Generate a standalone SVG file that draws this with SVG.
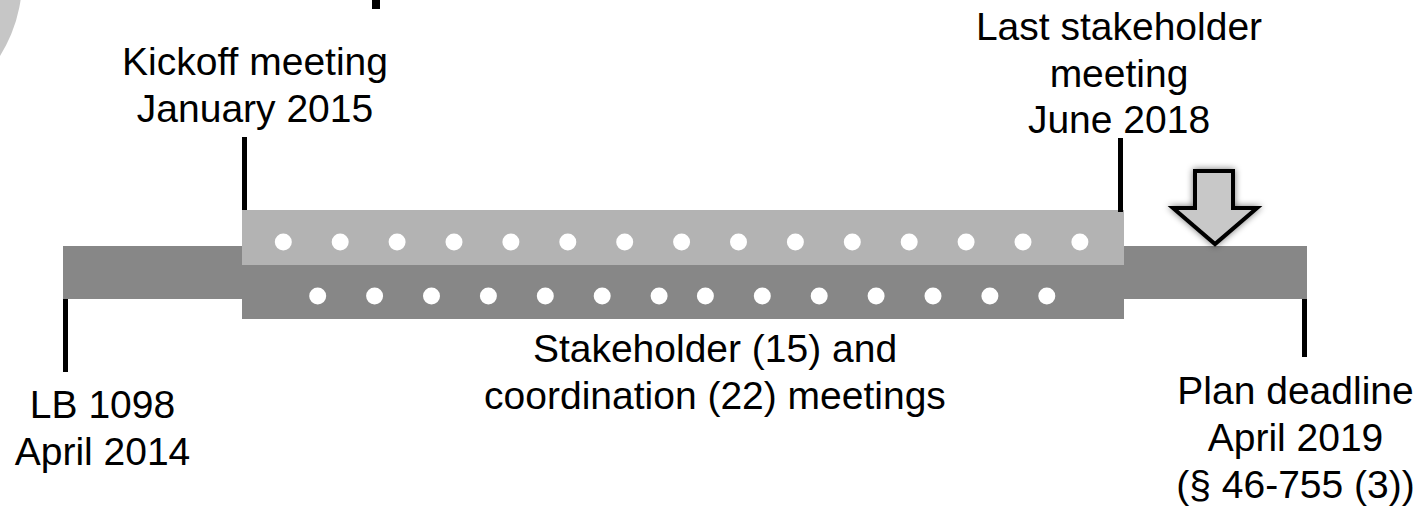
<svg xmlns="http://www.w3.org/2000/svg" width="1422" height="508" viewBox="0 0 1422 508">
<style>
.t{font-family:"Liberation Sans",Arial,sans-serif;font-size:39px;fill:#000;text-anchor:middle}
.dark{fill:#878787}
.light{fill:#b3b3b3}
.dot{fill:#fff}
.tick{fill:#000}
</style>
<defs>
<filter id="glow" x="-30%" y="-30%" width="160%" height="160%">
<feGaussianBlur in="SourceAlpha" stdDeviation="3.5"/>
<feComponentTransfer><feFuncA type="linear" slope="0.55"/></feComponentTransfer>
<feMerge><feMergeNode/><feMergeNode in="SourceGraphic"/></feMerge>
</filter>
</defs>
<rect width="1422" height="508" fill="#fff"/>
<circle cx="-120" cy="-20" r="142" fill="#c6c6c6"/>
<rect x="372" y="0" width="8" height="9" fill="#000"/>
<g id="bars">
<rect class="dark" x="63" y="246" width="182" height="53"/>
<rect class="dark" x="1124" y="246" width="183" height="53"/>
<rect class="light" x="242" y="210" width="882" height="55"/>
<rect class="dark" x="242" y="265" width="882" height="54"/>
</g>
<g id="stakeholder-dots">
<circle class="dot" cx="283.3" cy="242" r="8.5"/>
<circle class="dot" cx="340.2" cy="242" r="8.5"/>
<circle class="dot" cx="397.1" cy="242" r="8.5"/>
<circle class="dot" cx="454" cy="242" r="8.5"/>
<circle class="dot" cx="510.9" cy="242" r="8.5"/>
<circle class="dot" cx="567.8" cy="242" r="8.5"/>
<circle class="dot" cx="624.7" cy="242" r="8.5"/>
<circle class="dot" cx="681.6" cy="242" r="8.5"/>
<circle class="dot" cx="738.5" cy="242" r="8.5"/>
<circle class="dot" cx="795.4" cy="242" r="8.5"/>
<circle class="dot" cx="852.3" cy="242" r="8.5"/>
<circle class="dot" cx="909.2" cy="242" r="8.5"/>
<circle class="dot" cx="966.1" cy="242" r="8.5"/>
<circle class="dot" cx="1023" cy="242" r="8.5"/>
<circle class="dot" cx="1079.9" cy="242" r="8.5"/>
</g>
<g id="coordination-dots">
<circle class="dot" cx="317.7" cy="296" r="8.5"/>
<circle class="dot" cx="374.6" cy="296" r="8.5"/>
<circle class="dot" cx="431.5" cy="296" r="8.5"/>
<circle class="dot" cx="488.4" cy="296" r="8.5"/>
<circle class="dot" cx="545.3" cy="296" r="8.5"/>
<circle class="dot" cx="602.2" cy="296" r="8.5"/>
<circle class="dot" cx="659.1" cy="296" r="8.5"/>
<circle class="dot" cx="705.4" cy="296" r="8.5"/>
<circle class="dot" cx="762.3" cy="296" r="8.5"/>
<circle class="dot" cx="819.2" cy="296" r="8.5"/>
<circle class="dot" cx="876.1" cy="296" r="8.5"/>
<circle class="dot" cx="933" cy="296" r="8.5"/>
<circle class="dot" cx="989.9" cy="296" r="8.5"/>
<circle class="dot" cx="1046.8" cy="296" r="8.5"/>
</g>
<g id="connectors">
<rect class="tick" x="63" y="299" width="5" height="73"/>
<rect class="tick" x="242" y="137" width="5" height="73"/>
<rect class="tick" x="1118" y="138" width="5" height="74"/>
<rect class="tick" x="1302" y="299" width="5" height="58"/>
</g>
<g id="arrow" filter="url(#glow)">
<polygon points="1195,171 1233,171 1233,208 1257,208 1215,244 1173,208 1195,208" fill="#c8c8c8" stroke="#000" stroke-width="4" stroke-linejoin="miter"/>
</g>
<g id="kickoff">
<text class="t" x="255" y="75">Kickoff meeting</text>
<text class="t" x="255" y="122">January 2015</text>
</g>
<g id="last-stakeholder">
<text class="t" x="1119" y="40">Last stakeholder</text>
<text class="t" x="1119" y="86.5">meeting</text>
<text class="t" x="1119" y="133">June 2018</text>
</g>
<g id="lb1098">
<text class="t" x="102.5" y="418">LB 1098</text>
<text class="t" x="102.5" y="465">April 2014</text>
</g>
<g id="meetings">
<text class="t" x="715" y="362">Stakeholder (15) and</text>
<text class="t" x="715" y="408.5">coordination (22) meetings</text>
</g>
<g id="deadline">
<text class="t" x="1295.5" y="404">Plan deadline</text>
<text class="t" x="1295.5" y="451">April 2019</text>
<text class="t" x="1295.5" y="498">(§ 46-755 (3))</text>
</g>
</svg>
